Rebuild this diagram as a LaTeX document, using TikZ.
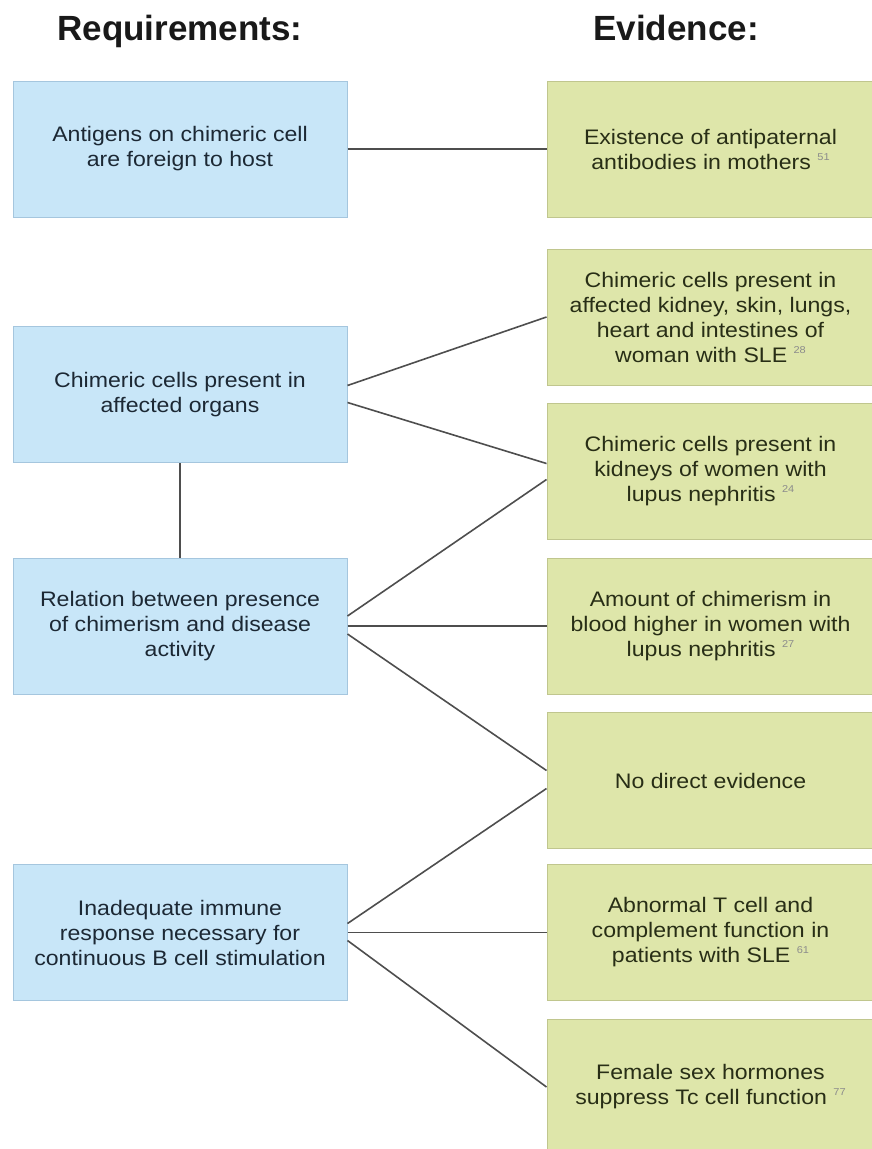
\documentclass[tikz,border=0pt]{standalone}
\usepackage{fontspec}
\setmainfont{Liberation Sans}
\newfontfamily\boxfont[FakeStretch=1.1]{Liberation Sans}

\definecolor{reqfill}{RGB}{200,230,248}
\definecolor{reqline}{RGB}{165,198,222}
\definecolor{reqtext}{RGB}{28,40,52}
\definecolor{evifill}{RGB}{222,230,170}
\definecolor{eviline}{RGB}{192,198,142}
\definecolor{evitext}{RGB}{40,46,22}
\definecolor{linkgray}{RGB}{78,78,78}
\definecolor{refgray}{RGB}{140,140,140}

\newcommand{\refno}[1]{~\raisebox{9pt}{\fontsize{10}{10}\selectfont\color{refgray}#1}}

\begin{document}
\begin{tikzpicture}[x=1pt,y=-1pt]
\tikzstyle{req}=[draw=reqline, fill=reqfill, line width=1pt, minimum width=334pt, minimum height=136pt, inner sep=0pt, align=center, text=reqtext, font=\boxfont\fontsize{21}{25}\selectfont]
\tikzstyle{evi}=[draw=eviline, fill=evifill, line width=1pt, minimum width=327pt, minimum height=136pt, inner sep=0pt, align=center, text=evitext, font=\boxfont\fontsize{21}{25}\selectfont]
\tikzstyle{head}=[anchor=base, inner sep=0pt, text=black!90, font=\bfseries\fontsize{35}{40}\selectfont]
\tikzstyle{link}=[draw=linkgray, line width=1.6pt]
\useasboundingbox (0,0) rectangle (872,1149);
\node[head] (reqhead) at (180,40) {Requirements:};
\node[head] (evihead) at (676,40) {Evidence:};
\node[req] (req1) at (180,149) {Antigens on chimeric cell\\are foreign to host};
\node[req] (req2) at (180,394.5) {Chimeric cells present in\\affected organs};
\node[req] (req3) at (180,626) {Relation between presence\\of chimerism and disease\\activity};
\node[req] (req4) at (180,932.5) {Inadequate immune\\response necessary for\\continuous B cell stimulation};
\node[evi] (evi1) at (710.5,149) {Existence of antipaternal\\antibodies in mothers\refno{51}};
\node[evi] (evi2) at (710.5,317) {Chimeric cells present in\\affected kidney, skin, lungs,\\heart and intestines of\\woman with SLE\refno{28}};
\node[evi] (evi3) at (710.5,471.5) {Chimeric cells present in\\kidneys of women with\\lupus nephritis\refno{24}};
\node[evi] (evi4) at (710.5,626) {Amount of chimerism in\\blood higher in women with\\lupus nephritis\refno{27}};
\node[evi] (evi5) at (710.5,780.5) {No direct evidence};
\node[evi] (evi6) at (710.5,932.5) {Abnormal T cell and\\complement function in\\patients with SLE\refno{61}};
\node[evi] (evi7) at (710.5,1087) {Female sex hormones\\suppress Tc cell function\refno{77}};
\draw[link] (req1.east) -- (evi1.west);
\draw[link] ([yshift=9pt]req2.east) -- (evi2.west);
\draw[link] ([yshift=-8pt]req2.east) -- ([yshift=8pt]evi3.west);
\draw[link] (req2.south) -- (req3.north);
\draw[link] ([yshift=10pt]req3.east) -- ([yshift=-8pt]evi3.west);
\draw[link] (req3.east) -- (evi4.west);
\draw[link] ([yshift=-8pt]req3.east) -- ([yshift=10pt]evi5.west);
\draw[link] ([yshift=9pt]req4.east) -- ([yshift=-8pt]evi5.west);
\draw[link] (req4.east) -- (evi6.west);
\draw[link] ([yshift=-8pt]req4.east) -- (evi7.west);
\end{tikzpicture}
\end{document}
